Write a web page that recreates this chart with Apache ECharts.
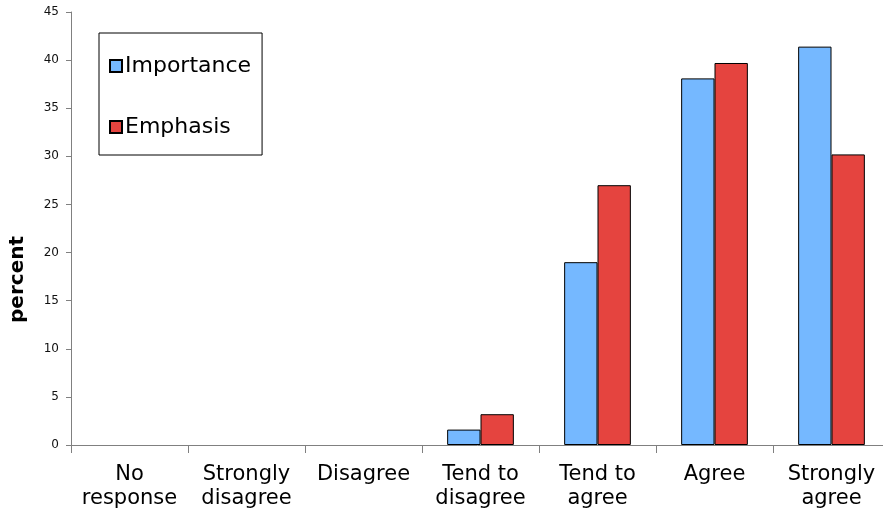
<!DOCTYPE html>
<html><head><meta charset="utf-8">
<script src="https://cdn.jsdelivr.net/npm/echarts@6/dist/echarts.min.js"></script>
<style>html,body{margin:0;padding:0;background:#fff;overflow:hidden}#c{width:883px;height:511px}</style>
</head><body><div id="c"></div>
<script>
const categories = ['No\nresponse','Strongly\ndisagree','Disagree','Tend to\ndisagree','Tend to\nagree','Agree','Strongly\nagree'];
const importance = [0, 0, 0, 1.6, 19.0, 38.1, 41.4];
const emphasis = [0, 0, 0, 3.2, 27.0, 39.7, 30.2];
const yTicks = [0,5,10,15,20,25,30,35,40,45];

const toItems = arr => arr.map(v => v === 0 ? {value:v, itemStyle:{borderWidth:0, opacity:0}} : v);

const chart = echarts.init(document.getElementById('c'));
const font = 'DejaVu Sans, Verdana, sans-serif';
chart.setOption({
  animation:false,
  backgroundColor:'#fff',
  grid:{left:71, top:12, width:819, height:433, containLabel:false, outerBoundsMode:'none'},
  legend:{
    orient:'vertical', left:99, top:33,
    data:['Importance','Emphasis'],
    backgroundColor:'#fff', borderColor:'#000', borderWidth:1,
    padding:[21,11,16,10],
    itemWidth:12, itemHeight:12, itemGap:37,
    icon:'rect',
    textStyle:{fontFamily:font, fontSize:22, color:'#000', lineHeight:24, padding:[0,0,0,-2]}
  },
  graphic:[{type:'text', left:8, top:236, rotation:Math.PI/2,
    style:{text:'percent', font:'bold 20px '+font, fill:'#000'}}],
  xAxis:{
    type:'category', data:categories,
    axisLine:{lineStyle:{color:'#808080', width:1}},
    axisTick:{show:true, length:8, lineStyle:{color:'#808080'}},
    axisLabel:{fontFamily:font, fontSize:21, color:'#000', lineHeight:24, margin:18, interval:0}
  },
  yAxis:{
    type:'value', min:yTicks[0], max:yTicks[yTicks.length-1], interval:5,
    splitLine:{show:false},
    axisLine:{show:true, lineStyle:{color:'#808080'}},
    axisTick:{show:true, length:5, lineStyle:{color:'#808080'}},
    axisLabel:{fontFamily:font, fontSize:12, color:'#111', margin:12}
  },
  series:[
    {name:'Importance', type:'bar', data:toItems(importance), barGap:'0%', barCategoryGap:'43%',
     itemStyle:{color:'#75b8ff', borderColor:'#000', borderWidth:1}},
    {name:'Emphasis', type:'bar', data:toItems(emphasis),
     itemStyle:{color:'#e5443f', borderColor:'#000', borderWidth:1}}
  ]
});
</script></body></html>
